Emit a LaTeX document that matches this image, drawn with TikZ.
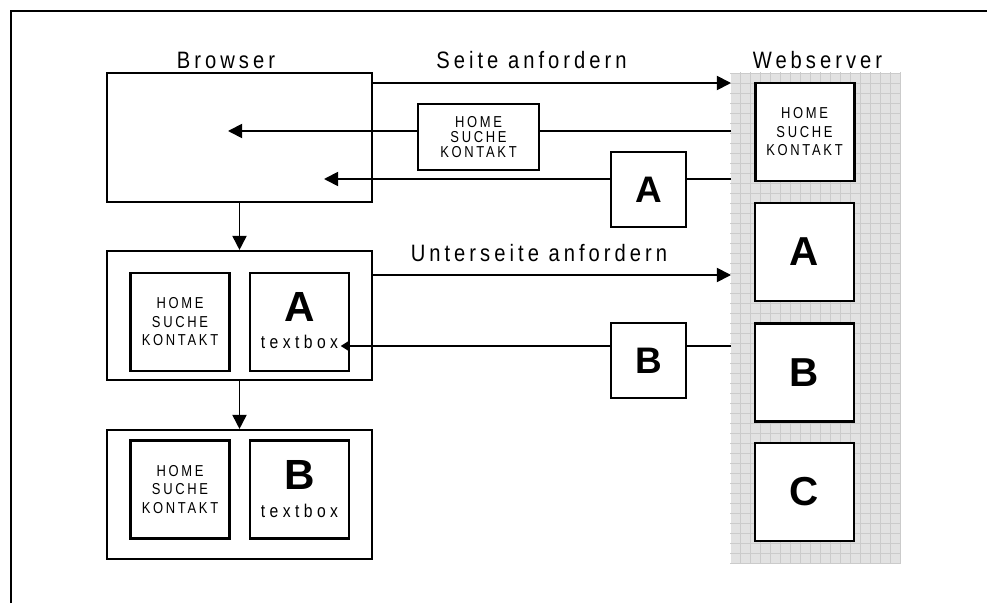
\documentclass[tikz,border=0pt]{standalone}
\usepackage{fontspec}
\setmainfont{Liberation Sans}
\newfontfamily\spacedfont[FakeStretch=0.85, LetterSpace=17]{Liberation Sans}
\newfontfamily\navfont[FakeStretch=0.82, LetterSpace=17]{Liberation Sans}
\newfontfamily\boxfont[FakeStretch=0.85, LetterSpace=24]{Liberation Sans}
\usetikzlibrary{arrows.meta, positioning, calc}
\definecolor{gridfill}{HTML}{E2E2E2}
\definecolor{gridline}{HTML}{CBCBCB}

\begin{document}
\begin{tikzpicture}[>={Triangle[length=8pt, width=8pt]}, line width=1pt,
  frame/.style={draw, line width=1.2pt, minimum width=5.3cm, minimum height=2.58cm, inner sep=0pt},
  page/.style={draw, fill=white, line width=1.4pt, minimum width=1.98cm, minimum height=1.96cm, inner sep=0pt},
  packet/.style={draw, fill=white, line width=0.9pt, inner sep=0pt},
  menu/.style={font=\navfont\fontsize{9}{10.5}\selectfont, align=center},
  letter/.style={font=\bfseries\fontsize{23}{23}\selectfont},
  textbox/.style={font=\boxfont\fontsize{10.5}{12}\selectfont, anchor=base, inner sep=1pt},
  caption/.style={font=\spacedfont\fontsize{13.5}{15}\selectfont, anchor=base}]

\useasboundingbox (0,0) rectangle (19.74,12.06);

% Frame
\draw[line width=1.1pt] (0.22,0) -- (0.22,11.84) -- (19.74,11.84);

% Webserver column
\node[fill=gridfill, minimum width=3.38cm, minimum height=9.8cm, inner sep=0pt] (column) at (16.31,5.70) {};
\draw[gridline, line width=0.3pt, step=0.2] (column.south west) grid (column.north east);

\node[caption] (server) at (16.35,10.68) {Webserver};
\node[page, menu, line width=1.7pt] (shome) at (16.09,9.42) {HOME\\SUCHE\\KONTAKT};
\node[page, letter] (sA) at (16.09,7.02) {A};
\node[page, letter] (sB) at (16.09,4.61) {B};
\node[page, letter] (sC) at (16.09,2.22) {C};

% Browser states
\node[caption] (browser) at (4.52,10.68) {Browser};
\node[frame] (b1) at (4.79,9.31) {};
\node[frame] (b2) at (4.79,5.75) {};
\node[frame] (b3) at (4.79,2.17) {};

\node[page, menu] (b2menu) at (3.6,5.62) {HOME\\SUCHE\\KONTAKT};
\node[page] (b2page) at (5.99,5.62) {};
\node[letter, anchor=base, font=\bfseries\fontsize{24}{24}\selectfont] (b2letter) at (5.99,5.63) {A};
\node[textbox] (b2tb) at (5.99,5.08) {textbox};

\node[page, menu] (b3menu) at (3.6,2.27) {HOME\\SUCHE\\KONTAKT};
\node[page] (b3page) at (5.99,2.27) {};
\node[letter, anchor=base, font=\bfseries\fontsize{24}{24}\selectfont] (b3letter) at (5.99,2.27) {B};
\node[textbox] (b3tb) at (5.99,1.71) {textbox};

\draw[->] (b1.south) -- (b2.north);
\draw[->] (b2.south) -- (b3.north);

% Column edge points
\coordinate (in1) at (14.62,10.40);
\coordinate (out1) at (14.62,9.44);
\coordinate (out2) at (14.62,8.48);
\coordinate (in2) at (14.62,6.56);
\coordinate (out3) at (14.62,5.14);

% Request page
\node[caption] (req1) at (10.63,10.68) {Seite anfordern};
\draw[->] (b1.east |- in1) -- (in1);

% Menu packet
\node[packet, menu, font=\navfont\fontsize{9}{8.6}\selectfont, minimum width=2.42cm, minimum height=1.32cm] (pkhome) at (9.57,9.32) {HOME\\SUCHE\\KONTAKT};
\coordinate (t1) at (4.56,9.44);
\draw (out1) -- (out1 -| pkhome.east);
\draw[->] (out1 -| pkhome.west) -- (t1);

% Packet A
\node[packet, letter, font=\bfseries\fontsize{21}{21}\selectfont, minimum size=1.5cm] (pkA) at (12.97,8.27) {A};
\coordinate (t2) at (6.48,8.48);
\draw (out2) -- (out2 -| pkA.east);
\draw[->] (out2 -| pkA.west) -- (t2);

% Request subpage
\node[caption] (req2) at (10.78,6.82) {Unterseite anfordern};
\draw[->] (b2.east |- in2) -- (in2);

% Packet B
\node[packet, letter, font=\bfseries\fontsize{21}{21}\selectfont, minimum size=1.5cm] (pkB) at (12.97,4.85) {B};
\draw (out3) -- (out3 -| pkB.east);
\draw[-{Triangle[length=5pt, width=6pt]}] (out3 -| pkB.west) -- (b2tb.east |- out3);

\end{tikzpicture}
\end{document}
